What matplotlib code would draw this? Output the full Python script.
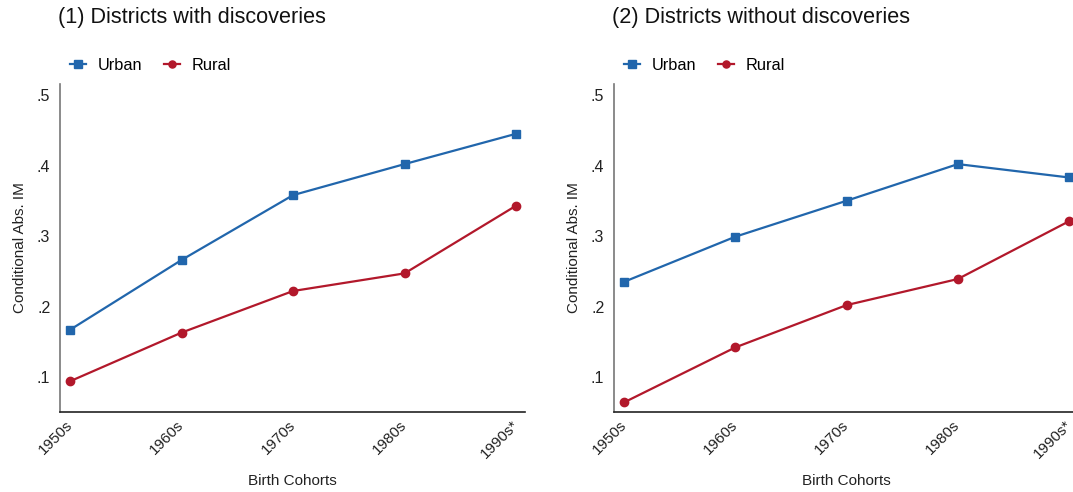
import matplotlib
matplotlib.use("Agg")
import matplotlib.pyplot as plt
from matplotlib.ticker import FuncFormatter

plt.rcParams['font.family'] = ['Liberation Sans', 'DejaVu Sans']

cohorts = ["1950s", "1960s", "1970s", "1980s", "1990s*"]
urban_with = [0.167, 0.266, 0.358, 0.402, 0.445]
rural_with = [0.094, 0.163, 0.222, 0.247, 0.343]
urban_without = [0.235, 0.299, 0.350, 0.402, 0.383]
rural_without = [0.064, 0.142, 0.202, 0.239, 0.321]
titles = ["(1) Districts with discoveries", "(2) Districts without discoveries"]
yticks = [0.1, 0.2, 0.3, 0.4, 0.5]

BLUE = "#2166ac"
RED = "#b2182b"

W, H = 1073, 492
fig = plt.figure(figsize=(W / 100, H / 100), dpi=100)

panels = [
    (60, 525, urban_with, rural_with, titles[0]),
    (614, 1078, urban_without, rural_without, titles[1]),
]

def fmt(v, pos):
    s = f"{v:.1f}"
    return s[1:] if s.startswith("0") else s

for x0, x1, urb, rur, title in panels:
    top, bot = 84, 412
    ax = fig.add_axes([x0 / W, (H - bot) / H, (x1 - x0) / W, (bot - top) / H])
    xs = list(range(len(cohorts)))
    lu, = ax.plot(xs, urb, color=BLUE, lw=1.6, marker="s", ms=6, label="Urban")
    lr, = ax.plot(xs, rur, color=RED, lw=1.6, marker="o", ms=6, label="Rural")
    ax.set_xlim(-0.09, 4.08)
    ax.set_ylim(0.0504, 0.5156)
    ax.set_yticks(yticks)
    ax.yaxis.set_major_formatter(FuncFormatter(fmt))
    ax.set_xticks(xs)
    ax.set_xticklabels(cohorts, rotation=45, ha="right", va="center",
                       rotation_mode="anchor")
    ax.tick_params(axis="both", length=0, colors="#222222")
    ax.tick_params(axis="y", pad=7, labelsize=11.5)
    ax.tick_params(axis="x", pad=8, labelsize=11)
    for s in ["top", "right"]:
        ax.spines[s].set_visible(False)
    ax.spines["left"].set_color("#777777")
    ax.spines["left"].set_linewidth(1.2)
    ax.spines["bottom"].set_color("#222222")
    ax.spines["bottom"].set_linewidth(1.2)
    ax.set_ylabel("Conditional Abs. IM", fontsize=11, labelpad=7, color="#222222")
    ax.set_xlabel("Birth Cohorts", fontsize=11, labelpad=9, color="#222222")
    fig.text((x0 - 2) / W, (H - 18) / H, title, fontsize=15.6, va="center",
             ha="left", color="#111111")
    leg = ax.legend(handles=[lu, lr], loc="center left", ncol=2, frameon=False,
                    fontsize=11.8, handlelength=1.0, handletextpad=0.7,
                    columnspacing=1.3, borderpad=0, borderaxespad=0,
                    markerscale=0.85)
    leg.set_bbox_to_anchor(((x0 + 10) / W, (H - 65) / H), transform=fig.transFigure)

fig.savefig("out.png", dpi=100)
